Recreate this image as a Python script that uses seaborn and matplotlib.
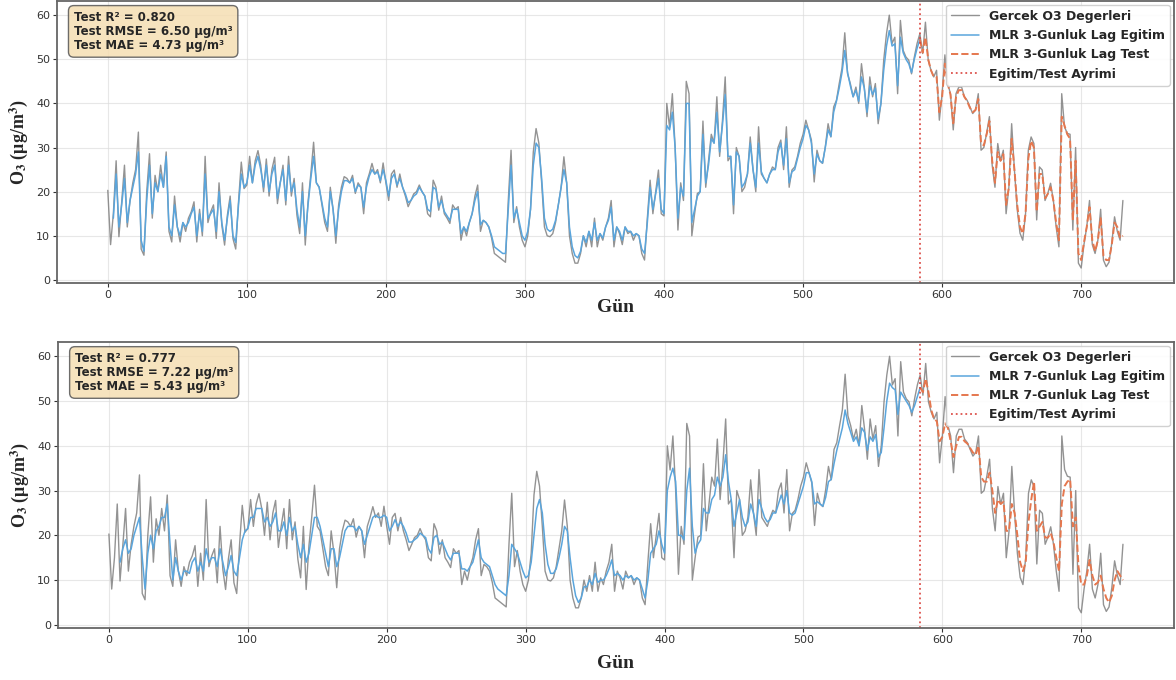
import numpy as np
import pandas as pd
import matplotlib
matplotlib.use('Agg')
import matplotlib.pyplot as plt
import seaborn as sns

# observed daily O3 (read every 2nd day from the chart)
days = list(range(0, 731, 2))
o3_obs = [
    20.3, 8, 15, 27, 9.8, 17.7, 26, 12, 18, 22,
    25, 33.5, 7, 5.6, 20, 28.6, 14, 23.7, 20, 26,
    21, 29, 11, 8.6, 19, 12, 8.6, 13, 11, 14,
    15.4, 17.7, 8.6, 16, 10, 28, 13, 15.4, 17, 9.4,
    22, 12.4, 7.9, 14.7, 19, 9.4, 7, 17.7, 26.7, 20.7,
    21.5, 28, 22, 27, 29.3, 26, 20, 27.4, 19, 25,
    27.8, 17.3, 22, 26, 17, 28, 19, 23, 14.7, 10.5,
    22, 7.9, 17.7, 24, 31.2, 22, 21, 17, 13, 11,
    21, 16, 8.3, 17, 21, 23.4, 23, 22, 23.7, 19.6,
    22, 21, 15, 22, 24, 26.4, 24, 25, 22, 26.5,
    22, 18, 24, 24.9, 21, 24, 21, 19, 16.6, 18,
    19.5, 20, 21.5, 20, 19, 15, 14.3, 22.6, 21, 15.8,
    19, 15, 14, 12.8, 17, 16, 16.6, 9, 12, 10,
    13, 15, 19, 21.5, 11, 13.5, 13, 12, 9.5, 6,
    5.5, 5, 4.5, 4, 18, 29.4, 13, 16.6, 12, 9,
    7.5, 10, 16, 29, 34.3, 31, 22, 12, 10, 9.8,
    10.5, 13, 17, 21, 27.9, 22, 10, 6, 3.8, 3.8,
    6, 10, 7.5, 11, 7.5, 14, 7.5, 10.5, 9, 12,
    14, 18, 7.5, 12, 10.5, 8, 12, 10.5, 11, 9,
    10.5, 10, 6, 4.5, 14, 22.6, 15, 20, 24.9, 15,
    14.5, 40, 34.6, 42.2, 30, 11.3, 22, 18, 45, 42.2,
    10, 15, 19.6, 20, 36, 21, 27, 33, 31, 41.5,
    28, 36, 46, 27, 28, 15, 30, 28, 20, 21,
    24, 32.4, 25, 20, 34.7, 24, 23, 22, 24, 25.6,
    25, 30, 31.7, 25, 34.7, 21, 24.9, 25.6, 28, 31,
    33, 36.2, 34, 31.7, 22.2, 29.4, 27, 26.4, 30.2, 35.4,
    32.4, 39.2, 40.7, 44.5, 48, 56, 46.7, 44.5, 41.5, 43.7,
    40, 49, 43.7, 37, 46, 41.5, 44.5, 35.4, 40, 49.8,
    55.8, 60, 53.6, 55, 42.2, 58.8, 52, 50.5, 49.8, 46.7,
    50.5, 53.6, 55.8, 51.3, 58.4, 49.8, 47.5, 46, 47.5, 36.2,
    42.2, 51, 44.5, 42.2, 34, 42.2, 43.7, 43.7, 41.5, 40.7,
    39.2, 37.7, 38.5, 42.2, 29.4, 30, 33.2, 37, 26, 21,
    30.9, 27, 29.4, 15, 21, 35.4, 24.9, 16, 10.6, 9,
    15, 29.4, 32.4, 30.9, 13.6, 25.6, 24.9, 18, 19.6, 21.9,
    18, 12, 7.5, 42.2, 34.7, 33.2, 33, 11.3, 30, 3.8,
    2.7, 8, 12, 18, 8, 6, 9, 16, 4.5, 3,
    4, 8.3, 14.3, 11, 9, 18,
]

# MLR 3-day lag predictions
lag3_days = list(range(4, 731, 2))
lag3_pred = [
    14, 24, 12, 17, 23, 13, 18, 21,
    24, 29, 9, 6.5, 18, 26, 15, 22, 20, 24,
    21, 28, 12, 10, 17, 12, 10, 13, 12, 13,
    15, 16.5, 10, 15, 11, 24, 14, 15, 16, 11,
    20, 13, 9, 14, 18, 10, 8.5, 17, 24, 21,
    22, 26, 22, 26, 28, 25, 21, 26, 20, 24,
    26, 18.5, 22, 25, 18, 26, 20, 22, 16, 12,
    20, 10, 17, 23, 28, 22, 21, 17.5, 14, 12,
    20, 16, 10, 16, 20, 22.5, 22.5, 22, 23, 20,
    21.5, 21, 16.5, 21, 23.5, 25, 24, 24.5, 22.5, 25,
    22.5, 19, 23, 24, 21.5, 23, 21, 19.5, 17.5, 18,
    19, 19.5, 21, 20, 19, 16, 15.5, 21, 20.5, 16.5,
    18, 15.5, 14.5, 13.5, 16, 16, 16, 10.5, 12, 11,
    13, 15, 18, 20, 12.5, 13.5, 13, 12, 10, 7.5,
    7, 6.5, 6, 6, 16, 26, 14, 16, 13, 10,
    9, 11, 16, 26, 31, 30, 23, 14, 11.5, 11,
    11.5, 13.5, 17, 21, 25, 22, 12, 7.5, 5.5, 5,
    6.5, 10, 8.5, 11, 9, 13, 9, 10.5, 9.5, 12,
    13.5, 16.5, 9, 12, 11, 9, 12, 11, 11, 10,
    10.5, 10, 7, 6, 13, 21, 16, 19.5, 23, 16,
    15, 35, 34, 38, 30, 14, 21, 19, 40, 40,
    13, 16, 19, 20, 33, 22, 26, 32, 31, 38,
    29, 35, 42, 28, 28, 17, 29, 28, 21, 22,
    24, 31, 25, 21, 31, 24.5, 23, 22, 24, 25,
    25, 29, 31, 26, 32, 22, 24.5, 25, 27.5, 30,
    32, 35, 34, 31, 24, 28.5, 27, 26.5, 30, 34,
    32.5, 38, 40.5, 43.5, 47, 52, 47, 44, 41.5, 43,
    40.5, 46, 43.5, 38, 44, 42, 43.5, 36.5, 40, 47.5,
    53, 56.5, 53, 53.5, 44, 55, 51.5, 50, 49, 47,
    50, 52.5, 54.5, 51.5, 55, 50, 47.5, 46, 46, 38,
    41.5, 49, 44.5, 42, 35.5, 41.5, 43, 43, 41.5, 40.5,
    39, 38, 38.5, 41, 31, 30.5, 33, 36, 27, 22,
    29, 27, 28.5, 17, 21, 32, 25, 17, 12, 10.5,
    15, 27.5, 31.5, 30, 15.5, 24, 24, 18.5, 19.5, 21,
    18, 13, 9, 37, 35, 33, 32, 13.5, 27, 6,
    4.5, 8.5, 12, 16.5, 9, 6.5, 9, 14, 5.5, 4.5,
    4.5, 8, 13, 12, 9.5, 10,
]

# MLR 7-day lag predictions
lag7_days = list(range(8, 731, 2))
lag7_pred = [
    14, 17, 19, 16, 17, 20,
    22, 24, 15, 8, 16, 20, 17, 21, 22, 24,
    24, 27, 18, 10, 15, 12, 10, 12, 12, 11.5,
    14, 15, 12, 14, 12, 17, 14, 15, 15, 13,
    17, 14, 11, 13, 15.5, 12, 11, 15, 19, 21,
    21.5, 24, 24, 26, 26, 26, 23, 24, 22, 23,
    25, 21, 21, 23, 20, 24, 21, 22, 18, 15,
    18, 14, 16, 20, 24, 24, 22, 19, 16, 13,
    17, 17, 13, 15, 18, 21, 22, 22, 22, 21,
    22, 21, 18, 20, 22, 24, 24.5, 24, 24, 24.5,
    24, 21, 22, 23.5, 22, 23, 22, 20.5, 18.5, 18.5,
    19, 19.5, 20.5, 20, 19.5, 17, 16, 19.5, 20, 18,
    18.5, 17, 15.5, 14.5, 16, 16, 16, 12.5, 12.5, 12,
    13, 14, 16.5, 19, 15, 14, 13.5, 13, 11, 9,
    8, 7.5, 7, 6.5, 11, 18, 17, 16, 14, 12,
    10.5, 11, 14, 20, 26, 28, 25, 18, 13.5, 11.5,
    11.5, 12.5, 15, 18, 22, 21, 15, 10, 6.5, 5,
    6, 8.5, 8.5, 10, 9, 11.5, 9.5, 10, 10, 11,
    12.5, 14.5, 11, 11.5, 11, 10, 11, 10.5, 11, 10,
    10.5, 10, 8, 6, 10, 16, 17, 18, 21, 18,
    16, 30, 33, 35, 32, 20, 20, 19, 30, 35,
    22, 16, 18, 19, 26, 25, 25, 28, 29, 33,
    31, 33, 38, 32, 28, 22, 25, 28, 24, 22,
    23, 27, 25, 22, 28, 26, 24, 23, 23.5, 25,
    25, 27, 29, 27, 30, 25, 24.5, 25, 27, 29,
    31, 34, 34, 32, 27, 27.5, 27, 26.5, 28.5, 32,
    32.5, 36, 39, 41.5, 44, 48, 45, 43, 41, 42,
    40, 44, 43, 39, 42, 41, 42.5, 37.5, 38.5, 44,
    50, 54, 53, 52.5, 47, 52, 51, 50, 49, 47.5,
    49, 51, 53, 52, 55, 52, 48, 46, 45.5, 41,
    42, 45, 44, 41, 37.5, 40, 42, 42, 41, 40.5,
    39.5, 38.5, 38, 40, 33, 32, 32, 34, 30, 25,
    28, 27, 27.5, 21, 21, 27, 25, 20, 14, 12,
    14, 23, 28, 32, 21, 22, 23, 19.5, 19.5, 20.5,
    18.5, 15, 12, 27, 31, 32, 32.5, 22, 24, 13,
    9, 9, 11, 14.5, 11, 9, 9.5, 11, 8, 6,
    5, 6.5, 10, 12, 11, 10,
]

split_day = 584
metrics3 = ['Test R² = 0.820', 'Test RMSE = 6.50 μg/m³', 'Test MAE = 4.73 μg/m³']
metrics7 = ['Test R² = 0.777', 'Test RMSE = 7.22 μg/m³', 'Test MAE = 5.43 μg/m³']

sns.set_style('whitegrid')
plt.rcParams['font.family'] = ['DejaVu Sans']
plt.rcParams['font.serif'] = ['Liberation Serif', 'DejaVu Serif']
plt.rcParams['mathtext.fontset'] = 'stix'

fig = plt.figure(figsize=(11.76, 6.8), dpi=100)
ax1 = fig.add_axes([0.0485, 0.5838, 0.9495, 0.4147])
ax2 = fig.add_axes([0.0495, 0.0765, 0.9485, 0.4206])


def draw(ax, pdays, pred, lag, metrics, xlab_y):
    obs = pd.DataFrame({'gun': days, 'o3': o3_obs})
    p = pd.DataFrame({'gun': pdays, 'o3': pred})
    tr = p[p['gun'] <= split_day]
    te = p[p['gun'] >= split_day]
    sns.lineplot(data=obs, x='gun', y='o3', ax=ax, color='gray', lw=1, alpha=0.85,
                 label='Gercek O3 Degerleri')
    sns.lineplot(data=tr, x='gun', y='o3', ax=ax, color='#5aa5dc', lw=1.1,
                 label=f'MLR {lag}-Gunluk Lag Egitim')
    sns.lineplot(data=te, x='gun', y='o3', ax=ax, color='#e5774e', lw=1.4, linestyle='--',
                 label=f'MLR {lag}-Gunluk Lag Test')
    ax.axvline(split_day, color='#d9403a', linestyle=':', lw=1.3, alpha=0.9,
               label='Egitim/Test Ayrimi')
    ax.set_xlim(-36.5, 766.5)
    ax.set_ylim(-0.7, 63.2)
    ax.set_xticks(range(0, 701, 100))
    ax.set_yticks(range(0, 61, 10))
    ax.grid(True, color='#dddddd', lw=0.8, alpha=0.7)
    ax.tick_params(axis='both', labelsize=8, colors='#333333', length=3, pad=2,
                   left=True, bottom=True)
    for s in ax.spines.values():
        s.set_color('#666666')
        s.set_linewidth(1.3)
    ax.set_xlabel('Gün', family='serif', fontweight='bold', fontsize=14)
    ax.set_ylabel(r'O$_\mathbf{3}$ (μg/m$^\mathbf{3}$)', family='serif', fontweight='bold',
                  fontsize=13)
    ax.xaxis.set_label_coords(0.5, xlab_y)
    ax.yaxis.set_label_coords(-0.024, 0.5)
    leg = ax.legend(loc='upper right', prop={'weight': 'bold', 'size': 9}, framealpha=0.9,
                    borderaxespad=0.3, handlelength=2.2)
    leg.get_frame().set_edgecolor('#cccccc')
    ax.text(0.015, 0.965, '\n'.join(metrics), transform=ax.transAxes, va='top', ha='left',
            fontsize=8.5, fontweight='bold', linespacing=1.1,
            bbox=dict(boxstyle='round,pad=0.45', facecolor='wheat', alpha=0.85, edgecolor='#555555'))


draw(ax1, lag3_days, lag3_pred, 3, metrics3, -0.055)
draw(ax2, lag7_days, lag7_pred, 7, metrics7, -0.095)

fig.savefig('out.png', dpi=100)
